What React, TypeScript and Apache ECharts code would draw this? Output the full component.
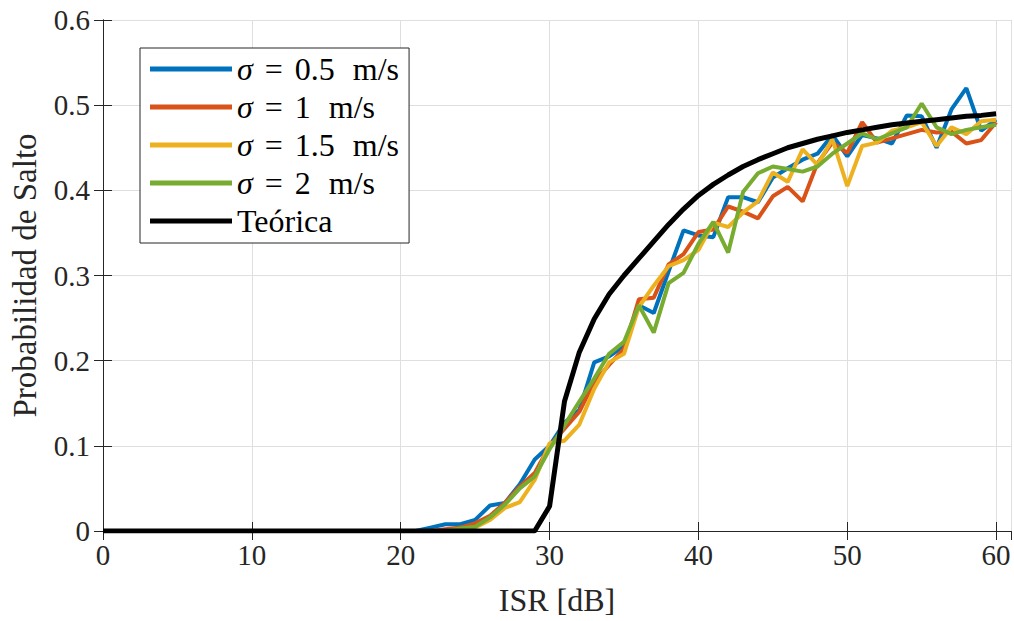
import React, { useEffect, useRef } from "react";
import * as echarts from "echarts";

const isr = [
  0, 1, 2, 3, 4, 5, 6, 7, 8, 9, 10, 11, 12, 13, 14, 15, 16, 17, 18, 19, 20,
  21, 22, 23, 24, 25, 26, 27, 28, 29, 30, 31, 32, 33, 34, 35, 36, 37, 38, 39, 40,
  41, 42, 43, 44, 45, 46, 47, 48, 49, 50, 51, 52, 53, 54, 55, 56, 57, 58, 59, 60,
];

const sigma05 = [
  0, 0, 0, 0, 0, 0, 0, 0, 0, 0, 0, 0, 0, 0, 0, 0, 0, 0, 0, 0, 0, 0,
  0.004, 0.008, 0.008, 0.013, 0.03, 0.033, 0.055, 0.084, 0.1, 0.127, 0.142, 0.198, 0.205, 0.217,
  0.265, 0.256, 0.305, 0.353, 0.347, 0.345, 0.392, 0.392, 0.386, 0.415, 0.426, 0.436, 0.443,
  0.465, 0.44, 0.465, 0.461, 0.455, 0.488, 0.487, 0.45, 0.495, 0.52, 0.47, 0.483,
];

const sigma1 = [
  0, 0, 0, 0, 0, 0, 0, 0, 0, 0, 0, 0, 0, 0, 0, 0, 0, 0, 0, 0, 0, 0, 0,
  0.002, 0.004, 0.009, 0.018, 0.033, 0.052, 0.068, 0.1, 0.12, 0.14, 0.175, 0.195, 0.214,
  0.272, 0.274, 0.313, 0.325, 0.351, 0.354, 0.381, 0.375, 0.367, 0.393, 0.404, 0.387, 0.432,
  0.456, 0.444, 0.48, 0.456, 0.461, 0.466, 0.471, 0.468, 0.469, 0.455, 0.459, 0.48,
];

const sigma15 = [
  0, 0, 0, 0, 0, 0, 0, 0, 0, 0, 0, 0, 0, 0, 0, 0, 0, 0, 0, 0, 0, 0, 0, 0,
  0.001, 0.004, 0.013, 0.027, 0.034, 0.06, 0.103, 0.106, 0.125, 0.167, 0.198, 0.208,
  0.263, 0.288, 0.311, 0.318, 0.33, 0.362, 0.357, 0.374, 0.387, 0.421, 0.41, 0.448, 0.43,
  0.46, 0.405, 0.452, 0.456, 0.47, 0.474, 0.48, 0.452, 0.474, 0.466, 0.481, 0.483,
];

const sigma2 = [
  0, 0, 0, 0, 0, 0, 0, 0, 0, 0, 0, 0, 0, 0, 0, 0, 0, 0, 0, 0, 0, 0, 0, 0,
  0.003, 0.005, 0.016, 0.031, 0.05, 0.064, 0.096, 0.124, 0.152, 0.179, 0.208, 0.222,
  0.265, 0.233, 0.291, 0.303, 0.337, 0.363, 0.327, 0.398, 0.42, 0.428, 0.425, 0.422, 0.428,
  0.443, 0.455, 0.467, 0.46, 0.467, 0.474, 0.502, 0.474, 0.466, 0.471, 0.474, 0.477,
];

const theory = [
  0, 0, 0, 0, 0, 0, 0, 0, 0, 0, 0, 0, 0, 0, 0, 0, 0, 0, 0, 0, 0, 0, 0, 0, 0, 0, 0, 0, 0, 0,
  0.029, 0.152, 0.21, 0.249, 0.278, 0.3, 0.32, 0.34, 0.36, 0.378, 0.394, 0.407, 0.418, 0.428,
  0.436, 0.443, 0.45, 0.455, 0.46, 0.464, 0.468, 0.471, 0.474, 0.477, 0.479, 0.481, 0.483,
  0.485, 0.487, 0.488, 0.49,
];

const seriesNames = ["s05", "s1", "s15", "s2", "Teórica"];
const legendLabels = ["0.5", "1", "1.5", "2"];
const seriesColors = ["#0072BD", "#D95319", "#EDB120", "#77AC30", "#000000"];
const xTicks = [0, 10, 20, 30, 40, 50, 60];
const yTicks = [0, 0.1, 0.2, 0.3, 0.4, 0.5, 0.6];

const FONT = "Liberation Serif";
const AXIS = "#262626";
const GRID = "#dfdfdf";
const LFS = 32;

export default function App() {
  const ref = useRef<HTMLDivElement>(null);

  useEffect(() => {
    if (!ref.current) return;
    const chart = echarts.init(ref.current, undefined, { renderer: "svg" });
    const allData = [sigma05, sigma1, sigma15, sigma2, theory];

    const series = allData.map((arr, i) => ({
      name: seriesNames[i],
      type: "line",
      data: isr.map((x, j) => [x, arr[j]]),
      showSymbol: false,
      symbol: "none",
      lineStyle: { color: seriesColors[i], width: i === 4 ? 5 : 4 },
      itemStyle: { color: seriesColors[i] },
      z: 2 + i,
    }));

    const legendFmt = (name: string) => {
      const idx = seriesNames.indexOf(name);
      if (idx < 4) {
        return `{s|σ}{e|=}{n|${legendLabels[idx]}}{u|m/s}`;
      }
      return `{n|${name}}`;
    };

    const tickFont = { fontFamily: FONT, fontSize: 29, color: AXIS };

    chart.setOption({
      animation: false,
      backgroundColor: "#ffffff",
      grid: { left: 103, right: 3, top: 20, bottom: 88, containLabel: false },
      legend: {
        show: true,
        orient: "vertical",
        left: 140,
        top: 48,
        padding: [5, 10, 6, 10],
        icon: "rect",
        itemWidth: 82,
        itemHeight: 5,
        itemGap: 6,
        borderColor: AXIS,
        borderWidth: 1,
        backgroundColor: "#ffffff",
        data: seriesNames,
        formatter: legendFmt,
        textStyle: {
          fontFamily: FONT,
          fontSize: LFS,
          lineHeight: 32,
          color: "#000",
          rich: {
            s: { fontFamily: FONT, fontSize: LFS, fontStyle: "italic", color: "#000" },
            e: { fontFamily: FONT, fontSize: LFS, padding: [0, 12, 0, 12], color: "#000" },
            n: { fontFamily: FONT, fontSize: LFS, color: "#000" },
            u: { fontFamily: FONT, fontSize: LFS, padding: [0, 0, 0, 18], color: "#000" },
          },
        },
      },
      xAxis: [
        {
          type: "value",
          min: 0,
          max: 61,
          interval: 10,
          name: "ISR [dB]",
          nameLocation: "middle",
          nameGap: 53,
          nameTextStyle: { fontFamily: FONT, fontSize: 32, color: AXIS },
          axisLine: { show: true, lineStyle: { color: AXIS, width: 1 } },
          axisTick: { show: true, inside: true, length: 9, lineStyle: { color: AXIS } },
          axisLabel: {
            ...tickFont,
            margin: 9,
            showMaxLabel: false,
            formatter: (v: number) => (xTicks.includes(v) ? String(v) : ""),
          },
          splitLine: { show: true, lineStyle: { color: GRID, width: 1 } },
        },
        {
          type: "value",
          position: "top",
          min: 0,
          max: 61,
          interval: 10,
          axisLine: { show: true, lineStyle: { color: AXIS, width: 1 } },
          axisTick: { show: true, inside: true, length: 9, lineStyle: { color: AXIS } },
          axisLabel: { show: false },
          splitLine: { show: false },
        },
      ],
      yAxis: [
        {
          type: "value",
          min: 0,
          max: 0.6,
          interval: 0.1,
          name: "Probabilidad de Salto",
          nameLocation: "middle",
          nameGap: 62,
          nameTextStyle: { fontFamily: FONT, fontSize: 33, color: AXIS },
          axisLine: { show: true, lineStyle: { color: AXIS, width: 1 } },
          axisTick: { show: true, inside: true, length: 9, lineStyle: { color: AXIS } },
          axisLabel: {
            ...tickFont,
            margin: 13,
            formatter: (v: number) => {
              const t = yTicks.find((y) => Math.abs(y - v) < 1e-9);
              if (t === undefined) return "";
              return t === 0 ? "0" : t.toFixed(1);
            },
          },
          splitLine: { show: true, lineStyle: { color: GRID, width: 1 } },
        },
        {
          type: "value",
          position: "right",
          min: 0,
          max: 0.6,
          interval: 0.1,
          axisLine: { show: true, lineStyle: { color: AXIS, width: 1 } },
          axisTick: { show: true, inside: true, length: 9, lineStyle: { color: AXIS } },
          axisLabel: { show: false },
          splitLine: { show: false },
        },
      ],
      series,
    });

    return () => {
      chart.dispose();
    };
  }, []);

  return (
    <div
      ref={ref}
      style={{ position: "absolute", left: 0, top: 0, width: 1014, height: 621, background: "#fff" }}
    />
  );
}
